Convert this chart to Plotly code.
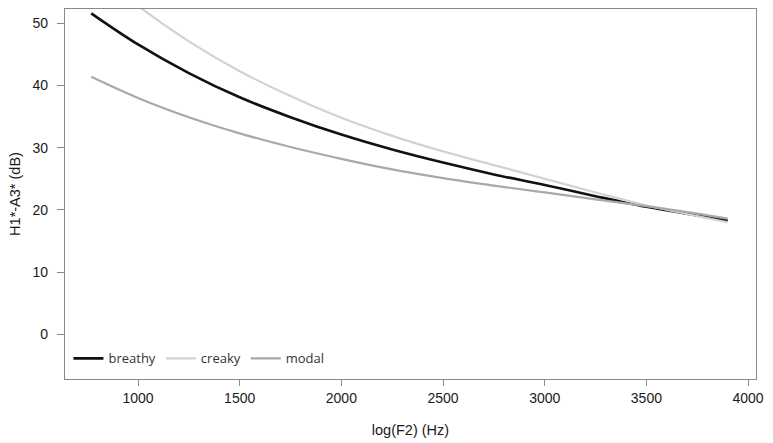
import plotly.graph_objects as go

f2 = [770, 1000, 1250, 1500, 1750, 2000, 2250, 2500, 2750, 3000, 3250, 3500, 3750, 3900]
breathy = [51.6, 46.6, 42.0, 38.1, 34.9, 32.1, 29.7, 27.6, 25.7, 24.0, 22.2, 20.5, 19.1, 18.3]
creaky = [59.0, 52.8, 47.1, 42.3, 38.3, 34.8, 31.9, 29.4, 27.2, 25.0, 22.8, 20.7, 19.0, 18.0]
modal = [41.4, 38.0, 34.9, 32.3, 30.1, 28.2, 26.5, 25.1, 23.9, 22.8, 21.7, 20.6, 19.4, 18.6]

series = [("breathy", breathy, "#111111", 2.6),
          ("creaky", creaky, "#d2d2d2", 2.2),
          ("modal", modal, "#a9a9a9", 2.2)]

fig = go.Figure()
for name, vals, col, w in series:
    fig.add_trace(go.Scatter(x=f2, y=vals, mode="lines", name=name,
                             line=dict(color=col, width=w, shape="spline", smoothing=1.0)))

axis_font = dict(family="Liberation Sans, Arial, sans-serif", size=14, color="#1a1a1a")
title_font = dict(family="Liberation Sans, Arial, sans-serif", size=14.5, color="#1a1a1a")
fig.update_layout(
    width=773, height=443,
    margin=dict(l=65, r=17, t=8, b=62),
    paper_bgcolor="white", plot_bgcolor="white",
    showlegend=True,
    legend=dict(orientation="h", x=0.005, y=0.015, xanchor="left", yanchor="bottom",
                bgcolor="rgba(0,0,0,0)", font=dict(family="Open Sans, sans-serif", size=13, color="#333"),
                itemwidth=30, tracegroupgap=0),
    xaxis=dict(range=[641, 4039], tickvals=[1000, 1500, 2000, 2500, 3000, 3500, 4000],
               showgrid=False, zeroline=False, showline=True, mirror=True,
               linecolor="#8a8a8a", linewidth=1.2, ticks="outside", ticklen=6,
               tickcolor="#8a8a8a", tickfont=axis_font,
               title=dict(text="log(F2) (Hz)", font=title_font, standoff=19)),
    yaxis=dict(range=[-7.2, 52.3], tickvals=[0, 10, 20, 30, 40, 50],
               showgrid=False, zeroline=False, showline=True, mirror=True,
               linecolor="#8a8a8a", linewidth=1.2, ticks="outside", ticklen=7,
               tickcolor="#8a8a8a", tickfont=axis_font, ticklabelstandoff=6,
               title=dict(text="H1*-A3* (dB)", font=title_font, standoff=8)),
)

fig.write_html("out.html")
